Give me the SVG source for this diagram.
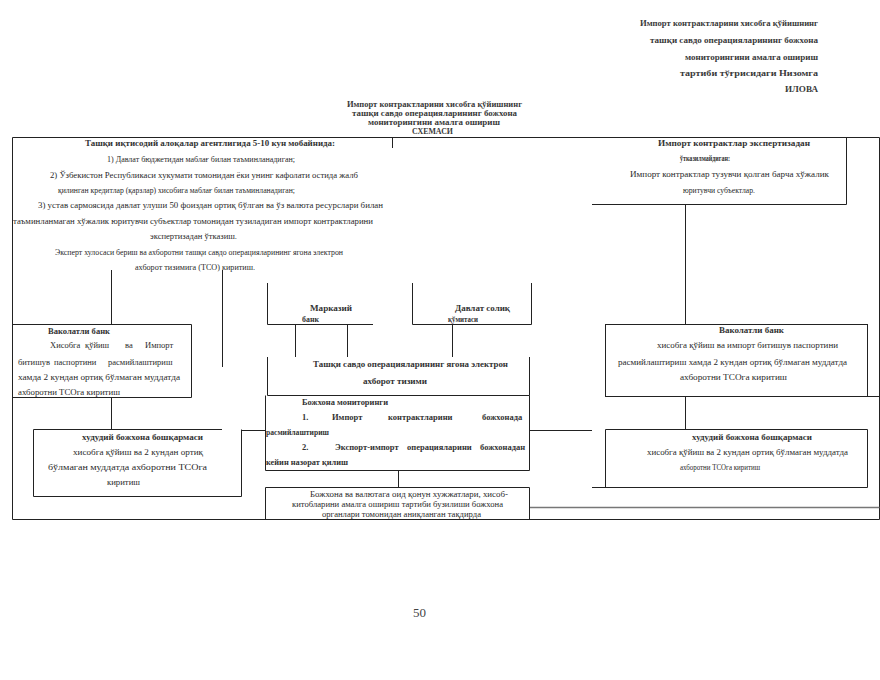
<svg xmlns="http://www.w3.org/2000/svg" width="880" height="680" viewBox="0 0 880 680">
<style>
.t{font-family:"Liberation Serif","DejaVu Serif",serif;font-size:8.5px;fill:#2a2a2a}
.b{font-weight:bold;fill:#333}
.h{font-family:"Liberation Serif","DejaVu Serif",serif;font-size:9px;font-weight:bold;fill:#3a3a3a}
.ln{stroke:#222;stroke-width:1;fill:none}
.g{stroke:#777;stroke-width:1.5;fill:none}
</style>
<rect width="880" height="680" fill="#fff"/>
<g id="header">
<text class="h" x="640" y="26" textLength="178" lengthAdjust="spacingAndGlyphs">Импорт контрактларини хисобга қўйишнинг</text>
<text class="h" x="650" y="43" textLength="168" lengthAdjust="spacingAndGlyphs">ташқи савдо операцияларининг божхона</text>
<text class="h" x="685" y="60" textLength="133" lengthAdjust="spacingAndGlyphs">мониторингини амалга ошириш</text>
<text class="h" x="680" y="76" textLength="138" lengthAdjust="spacingAndGlyphs">тартиби тўғрисидаги Низомга</text>
<text class="h" x="785" y="92" textLength="33" lengthAdjust="spacingAndGlyphs">ИЛОВА</text>
</g>
<g id="title">
<text class="h" x="347" y="107" textLength="175" lengthAdjust="spacingAndGlyphs">Импорт контрактларини хисобга қўйишнинг</text>
<text class="h" x="352" y="116" textLength="165" lengthAdjust="spacingAndGlyphs">ташқи савдо операцияларининг божхона</text>
<text class="h" x="368" y="125" textLength="132" lengthAdjust="spacingAndGlyphs">мониторингини амалга ошириш</text>
<text class="h" x="412" y="134" textLength="41" lengthAdjust="spacingAndGlyphs">СХЕМАСИ</text>
</g>
<g id="connectors">
<path class="ln" d="M12.5 137.5H879.5M12.5 137.5V519.5M879.5 137.5V519.5M12.5 519.5H879.5"/>
<path class="ln" d="M392.5 137.5V148"/>
<path class="ln" d="M846.5 137.5V204.5H592"/>
<path class="ln" d="M685.5 204.5V324M685.5 396.5V429"/>
<path class="ln" d="M111.5 270V324M111.5 397.5V429"/>
<path class="ln" d="M222.5 270V367"/>
<path class="ln" d="M295.5 324.5V357M347.5 324.5V357M452.5 324.5V357"/>
<path class="ln" d="M242 430.5H265.5M529.5 430.5H592"/>
<path class="ln" d="M398.5 470.5V487"/>
<path class="g" d="M529.5 507.5H879.5"/>
<path class="ln" d="M867.5 396.5H879.5"/>
</g>
<g id="n_expertiza">
<text class="t b" x="85" y="146" textLength="250" lengthAdjust="spacingAndGlyphs">Ташқи иқтисодий алоқалар агентлигида 5-10 кун мобайнида:</text>
<text class="t" x="107" y="162" textLength="188" lengthAdjust="spacingAndGlyphs">1) Давлат бюджетидан маблағ билан таъминланадиган;</text>
<text class="t" x="50" y="178" textLength="308" lengthAdjust="spacingAndGlyphs">2) Ўзбекистон Республикаси хукумати томонидан ёки унинг кафолати остида жалб</text>
<text class="t" x="58" y="193" textLength="237" lengthAdjust="spacingAndGlyphs">қилинган кредитлар (қарзлар) хисобига маблағ билан таъминланадиган;</text>
<text class="t" x="38" y="208" textLength="345" lengthAdjust="spacingAndGlyphs">3) устав сармоясида давлат улуши 50 фоиздан ортиқ бўлган ва ўз валюта ресурслари билан</text>
<text class="t" x="13" y="224" textLength="360" lengthAdjust="spacingAndGlyphs">таъминланмаган хўжалик юритувчи субъектлар томонидан тузиладиган импорт контрактларини</text>
<text class="t" x="150" y="239" textLength="87" lengthAdjust="spacingAndGlyphs">экспертизадан ўтказиш.</text>
<text class="t" x="55" y="255" textLength="288" lengthAdjust="spacingAndGlyphs">Эксперт хулосаси бериш ва ахборотни ташқи савдо операцияларининг ягона электрон</text>
<text class="t" x="135" y="270" textLength="120" lengthAdjust="spacingAndGlyphs">ахборот тизимига (ТСО) киритиш.</text>
</g>
<g id="n_noexpertiza">
<text class="t b" x="658" y="146" textLength="152" lengthAdjust="spacingAndGlyphs">Импорт контрактлар экспертизадан</text>
<text class="t b" x="680" y="161" textLength="50" lengthAdjust="spacingAndGlyphs">ўтказилмайдиган:</text>
<text class="t" x="630" y="177" textLength="199" lengthAdjust="spacingAndGlyphs">Импорт контрактлар тузувчи қолган барча хўжалик</text>
<text class="t" x="683" y="193" textLength="72" lengthAdjust="spacingAndGlyphs">юритувчи субъектлар.</text>
</g>
<g id="n_markaziy">
<path class="ln" d="M267.5 283V324.5H373"/>
<text class="t b" x="310" y="311" textLength="42" lengthAdjust="spacingAndGlyphs">Марказий</text>
<text class="t b" x="302" y="322" textLength="17" lengthAdjust="spacingAndGlyphs">банк</text>
</g>
<g id="n_soliq">
<path class="ln" d="M412.5 283V324.5H531.5V283"/>
<text class="t b" x="455" y="311" textLength="55" lengthAdjust="spacingAndGlyphs">Давлат солиқ</text>
<text class="t b" x="448" y="322" textLength="30" lengthAdjust="spacingAndGlyphs">қўмитаси</text>
</g>
<g id="n_tso">
<path class="ln" d="M267.5 357V395.5H529.5V357"/>
<text class="t b" x="313" y="367" textLength="195" lengthAdjust="spacingAndGlyphs">Ташқи савдо операцияларининг ягона электрон</text>
<text class="t b" x="363" y="384" textLength="64" lengthAdjust="spacingAndGlyphs">ахборот тизими</text>
</g>
<g id="n_monitoring">
<path class="ln" d="M265.5 395.5V470.5H529.5V395.5"/>
<text class="t b" x="302" y="405" textLength="86" lengthAdjust="spacingAndGlyphs">Божхона мониторинги</text>
<text class="t b" y="420"><tspan x="302">1.</tspan><tspan x="332">Импорт</tspan><tspan x="388">контрактларини</tspan><tspan x="482">божхонада</tspan></text>
<text class="t b" x="266" y="435" textLength="63" lengthAdjust="spacingAndGlyphs">расмийлаштириш</text>
<text class="t b" y="450"><tspan x="302">2.</tspan><tspan x="335">Экспорт-импорт</tspan><tspan x="407">операцияларини</tspan><tspan x="480">божхонадан</tspan></text>
<text class="t b" x="266" y="465" textLength="82" lengthAdjust="spacingAndGlyphs">кейин назорат қилиш</text>
</g>
<g id="n_qonun">
<path class="ln" d="M265.5 519.5V487.5H529.5V519.5"/>
<text class="t" x="310" y="497" textLength="198" lengthAdjust="spacingAndGlyphs">Божхона ва валютага оид қонун хужжатлари, хисоб-</text>
<text class="t" x="292" y="507" textLength="211" lengthAdjust="spacingAndGlyphs">китобларини амалга ошириш тартиби бузилиши божхона</text>
<text class="t" x="322" y="517" textLength="159" lengthAdjust="spacingAndGlyphs">органлари томонидан аниқланган тақдирда</text>
</g>
<g id="n_bank_left">
<path class="ln" d="M12.5 324.5H191.5V397.5H12.5"/>
<text class="t b" x="48" y="334" textLength="62" lengthAdjust="spacingAndGlyphs">Ваколатли банк</text>
<text class="t" y="348"><tspan x="50">Хисобга</tspan><tspan x="85">қўйиш</tspan><tspan x="125">ва</tspan><tspan x="145">Импорт</tspan></text>
<text class="t" y="365"><tspan x="18">битишув</tspan><tspan x="54">паспортини</tspan><tspan x="108">расмийлаштириш</tspan></text>
<text class="t" x="18" y="380" textLength="162" lengthAdjust="spacingAndGlyphs">хамда 2 кундан ортиқ бўлмаган муддатда</text>
<text class="t" x="18" y="395" textLength="102" lengthAdjust="spacingAndGlyphs">ахборотни  ТСОга киритиш</text>
</g>
<g id="n_customs_left">
<path class="ln" d="M222 429.5H33.5V496.5H241.5V429.5"/>
<text class="t b" x="82" y="440" textLength="121" lengthAdjust="spacingAndGlyphs">худудий божхона бошқармаси</text>
<text class="t" x="73" y="455" textLength="130" lengthAdjust="spacingAndGlyphs">хисобга қўйиш ва 2 кундан ортиқ</text>
<text class="t" x="48" y="470" textLength="159" lengthAdjust="spacingAndGlyphs">бўлмаган муддатда ахборотни  ТСОга</text>
<text class="t" x="107" y="485" textLength="33" lengthAdjust="spacingAndGlyphs">киритиш</text>
</g>
<g id="n_bank_right">
<rect class="ln" x="605.5" y="324.5" width="262" height="72"/>
<text class="t b" x="719" y="333" textLength="65" lengthAdjust="spacingAndGlyphs">Ваколатли банк</text>
<text class="t" x="657" y="348" textLength="181" lengthAdjust="spacingAndGlyphs">хисобга қўйиш ва импорт битишув паспортини</text>
<text class="t" x="618" y="365" textLength="229" lengthAdjust="spacingAndGlyphs">расмийлаштириш хамда 2 кундан ортиқ бўлмаган муддатда</text>
<text class="t" x="680" y="380" textLength="107" lengthAdjust="spacingAndGlyphs">ахборотни  ТСОга киритиш</text>
</g>
<g id="n_customs_right">
<path class="ln" d="M605.5 429.5H867.5V487.5H592M605.5 429.5V487.5"/>
<text class="t b" x="692" y="440" textLength="120" lengthAdjust="spacingAndGlyphs">худудий божхона бошқармаси</text>
<text class="t" x="647" y="455" textLength="201" lengthAdjust="spacingAndGlyphs">хисобга қўйиш ва 2 кундан ортиқ бўлмаган муддатда</text>
<text class="t" x="680" y="470" textLength="80" lengthAdjust="spacingAndGlyphs">ахборотни ТСОга киритиш</text>
</g>
<text x="413" y="617" style="font-family:'Liberation Serif',serif;font-size:13px;fill:#444">50</text>
</svg>
